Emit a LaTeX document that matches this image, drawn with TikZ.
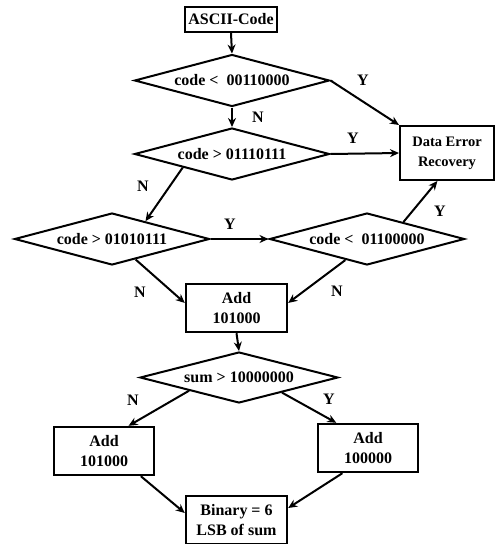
\documentclass[tikz,border=0pt]{standalone}
\usepackage{fontspec}
\setmainfont{Liberation Serif}
\usetikzlibrary{shapes.geometric,arrows.meta,calc}
\begin{document}
\begin{tikzpicture}[x=1pt,y=-1pt,
  every node/.style={font=\fontsize{16}{20}\selectfont\bfseries},
  dec/.style={draw,diamond,line width=2pt,inner sep=0pt,aspect=3.8,minimum width=195pt,minimum height=52pt},
  box/.style={draw,rectangle,line width=2.4pt,inner sep=0pt,align=center},
  arr/.style={line width=2pt,-{Stealth[length=9pt,width=8pt]}},
  lab/.style={font=\fontsize{16}{18}\selectfont\bfseries}]
\useasboundingbox (0,0) rectangle (495,544);
% nodes
\node[box,minimum width=92pt,minimum height=25pt] (ascii) at (231,19.5) {ASCII-Code};
\node[dec] (d1) at (232,80.5) {code <\ \ 00110000};
\node[dec] (d2) at (232,154) {code > 01110111};
\node[box,line width=2pt,minimum width=94pt,minimum height=54pt] (der) at (447,153) {\fontsize{14.5}{21}\selectfont Data Error\\\fontsize{14.5}{21}\selectfont Recovery};
\node[dec] (d3) at (112,239) {code > 01010111};
\node[dec] (d4) at (367,239) {code <\ \ 01100000};
\node[box,minimum width=101pt,minimum height=48pt] (add1) at (236.5,308) {Add\\101000};
\node[dec,minimum width=198pt,minimum height=51pt] (d5) at (239,377.5) {sum > 10000000};
\node[box,minimum width=100pt,minimum height=48pt] (addL) at (104,451) {Add\\101000};
\node[box,minimum width=100pt,minimum height=48pt] (addR) at (368,448) {Add\\100000};
\node[box,minimum width=101pt,minimum height=48pt] (fin) at (236.5,520) {Binary = 6\\LSB of sum};
% connectors
\draw[arr] (ascii.south) -- (d1.north);
\draw[arr] (d1.east) -- (der.north west);
\draw[arr] (d1.south) -- (d2.north);
\draw[arr] (d2.east) -- (der.west);
\draw[arr] (d2.south west) -- ($(d3.north)!0.34!(d3.east)$);
\draw[arr] (d3.east) -- (d4.west);
\draw[arr] ($(d4.north)!0.37!(d4.east)$) -- ($(der.south west)!0.4!(der.south east)$);
\draw[arr] ($(d3.south)!0.24!(d3.east)$) -- ($(add1.north west)!0.4!(add1.south west)$);
\draw[arr] ($(d4.south)!0.22!(d4.west)$) -- ($(add1.north east)!0.4!(add1.south east)$);
\draw[arr] (add1.south) -- (d5.north);
\draw[arr] (d5.south west) -- ($(addL.north west)!0.74!(addL.north east)$);
\draw[arr] ($(d5.south)!0.43!(d5.east)$) -- ($(addR.north west)!0.19!(addR.north east)$);
\draw[arr] ($(addL.south west)!0.86!(addL.south east)$) -- ($(fin.west)+(0,-7)$);
\draw[arr] ($(addR.south west)!0.25!(addR.south east)$) -- ($(fin.east)+(0,-12)$);
% labels
\node[lab] (y1) at (363,80) {Y};
\node[lab] (n1) at (258,117) {N};
\node[lab] (y2) at (353,138) {Y};
\node[lab] (n2) at (143,186) {N};
\node[lab] (y3) at (230,224) {Y};
\node[lab] (y4) at (440,211) {Y};
\node[lab] (n3) at (140,292) {N};
\node[lab] (n4) at (337,291) {N};
\node[lab] (n5) at (133,400) {N};
\node[lab] (y5) at (329,399) {Y};
\end{tikzpicture}
\end{document}
